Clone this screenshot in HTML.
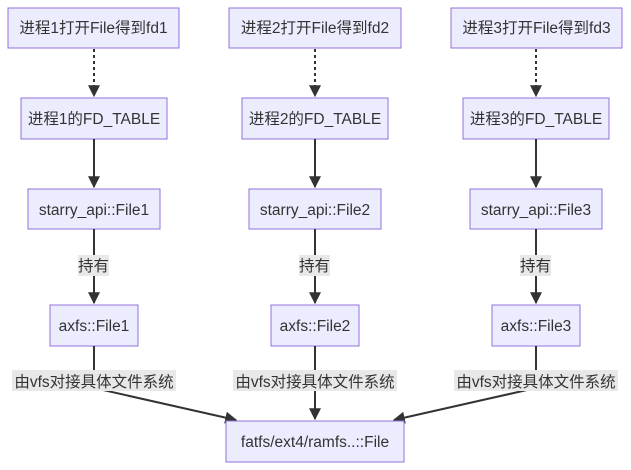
<!DOCTYPE html>
<html><head><meta charset="utf-8"><style>
html,body{margin:0;padding:0;background:#fff;}
svg{display:block;}
text{font-family:"Liberation Sans","Noto Sans CJK SC",sans-serif;font-size:15.5px;fill:#333;}
.n{fill:#ECECFF;stroke:#9370DB;stroke-width:1;}
.e{stroke:#333;stroke-width:2;fill:none;}
.d{stroke:#333;stroke-width:2;fill:none;stroke-dasharray:3,3;}
.lb{fill:#e8e8e8;}
</style></head><body>
<svg width="631" height="470" viewBox="0 0 631 470" xmlns="http://www.w3.org/2000/svg">
<defs><marker id="a" viewBox="0 0 10 10" refX="9" refY="5" markerWidth="6" markerHeight="6" orient="auto"><path d="M0,0L10,5L0,10z" fill="#333"/></marker></defs>
<g id="c1">
<rect class="n" x="8" y="8" width="171" height="40"/>
<text x="93.5" y="33" text-anchor="middle">进程1打开File得到fd1</text>
<line class="d" x1="94" y1="49" x2="94" y2="96" marker-end="url(#a)"/>
<rect class="n" x="21" y="98" width="146" height="41"/>
<text x="94" y="124" text-anchor="middle">进程1的FD_TABLE</text>
<line class="e" x1="94" y1="139" x2="94" y2="187" marker-end="url(#a)"/>
<rect class="n" x="28" y="189" width="132" height="40"/>
<text x="94" y="215" text-anchor="middle">starry_api::File1</text>
<line class="e" x1="94" y1="229" x2="94" y2="303" marker-end="url(#a)"/>
<rect class="lb" x="78" y="255" width="31" height="21"/>
<text x="93.5" y="271" text-anchor="middle">持有</text>
<rect class="n" x="50" y="305" width="88" height="41"/>
<text x="94" y="331" text-anchor="middle">axfs::File1</text>
<line class="e" x1="94" y1="346" x2="94" y2="372"/>
</g>
<g>
<rect class="n" x="229" y="8" width="172" height="40"/>
<text x="315" y="33" text-anchor="middle">进程2打开File得到fd2</text>
<line class="d" x1="315" y1="49" x2="315" y2="96" marker-end="url(#a)"/>
<rect class="n" x="242" y="98" width="146" height="41"/>
<text x="315" y="124" text-anchor="middle">进程2的FD_TABLE</text>
<line class="e" x1="315" y1="139" x2="315" y2="187" marker-end="url(#a)"/>
<rect class="n" x="249" y="189" width="132" height="40"/>
<text x="315" y="215" text-anchor="middle">starry_api::File2</text>
<line class="e" x1="315" y1="229" x2="315" y2="303" marker-end="url(#a)"/>
<rect class="lb" x="299" y="255" width="31" height="21"/>
<text x="314.5" y="271" text-anchor="middle">持有</text>
<rect class="n" x="271" y="305" width="88" height="41"/>
<text x="315" y="331" text-anchor="middle">axfs::File2</text>
<line class="e" x1="315" y1="346" x2="315" y2="419" marker-end="url(#a)"/>
</g>
<g>
<rect class="n" x="451" y="8" width="171" height="40"/>
<text x="536.5" y="33" text-anchor="middle">进程3打开File得到fd3</text>
<line class="d" x1="536" y1="49" x2="536" y2="96" marker-end="url(#a)"/>
<rect class="n" x="463" y="98" width="146" height="41"/>
<text x="536" y="124" text-anchor="middle">进程3的FD_TABLE</text>
<line class="e" x1="536" y1="139" x2="536" y2="187" marker-end="url(#a)"/>
<rect class="n" x="470" y="189" width="132" height="40"/>
<text x="536" y="215" text-anchor="middle">starry_api::File3</text>
<line class="e" x1="536" y1="229" x2="536" y2="303" marker-end="url(#a)"/>
<rect class="lb" x="520" y="255" width="31" height="21"/>
<text x="535.5" y="271" text-anchor="middle">持有</text>
<rect class="n" x="492" y="305" width="88" height="41"/>
<text x="536" y="331" text-anchor="middle">axfs::File3</text>
<line class="e" x1="536" y1="346" x2="536" y2="372"/>
</g>
<path class="e" d="M94,372 L94,388 L236,420" marker-end="url(#a)"/>
<path class="e" d="M536,372 L536,388 L394,420" marker-end="url(#a)"/>
<rect class="lb" x="12" y="370" width="164" height="21"/>
<text x="94" y="387" text-anchor="middle">由vfs对接具体文件系统</text>
<rect class="lb" x="233" y="370" width="164" height="21"/>
<text x="315" y="387" text-anchor="middle">由vfs对接具体文件系统</text>
<rect class="lb" x="454" y="370" width="164" height="21"/>
<text x="536" y="387" text-anchor="middle">由vfs对接具体文件系统</text>
<rect class="n" x="226" y="421" width="178" height="41"/>
<text x="315" y="447" text-anchor="middle">fatfs/ext4/ramfs..::File</text>
</svg>
</body></html>
